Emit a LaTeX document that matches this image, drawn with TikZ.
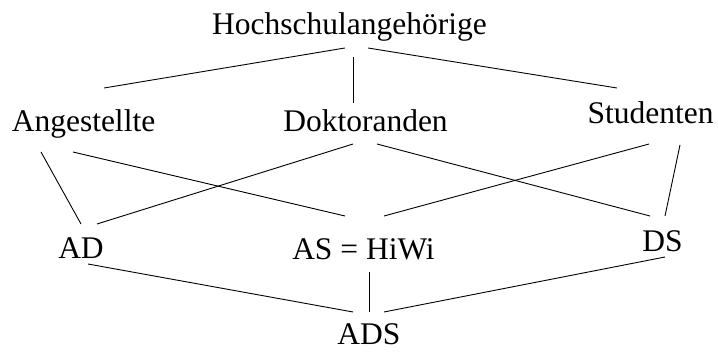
\documentclass[tikz,border=0pt]{standalone}
\usepackage{fontspec}
\setmainfont{Liberation Serif}
\begin{document}
\begin{tikzpicture}[x=1pt,y=1pt,
  lbl/.style={anchor=base,inner sep=0pt,font=\fontsize{31.5}{36}\selectfont},
  edge/.style={line width=0.9pt}]
\useasboundingbox[fill=white] (0,0) rectangle (718,351);

% lattice elements
\node[lbl] (hoch) at (349.5,316) {Hochschulangehörige};
\node[lbl] (ang)  at (83.5,219)  {Angestellte};
\node[lbl] (dok)  at (365.5,219) {Doktoranden};
\node[lbl] (stud) at (650.5,227) {Studenten};
\node[lbl] (ad)   at (81,92)     {AD};
\node[lbl] (as)   at (363.5,91)  {AS = HiWi};
\node[lbl] (ds)   at (662.5,99)  {DS};
\node[lbl,text depth=0pt] (ads) at (369,6) {ADS};

% order relations
\draw[edge] ([shift={(-4.5,-13)}]hoch.base) -- ([shift={(20.5,44)}]ang.base);
\draw[edge] ([shift={(3.5,-22)}]hoch.base)  -- ([shift={(-12.5,29)}]dok.base);
\draw[edge] ([shift={(18.5,-13)}]hoch.base) -- ([shift={(-33.5,36)}]stud.base);

\draw[edge] ([shift={(-42.5,-20)}]ang.base) -- ([shift={(0,35)}]ad.base);
\draw[edge] ([shift={(-10.5,-20)}]ang.base) -- ([shift={(-18.5,44)}]as.base);
\draw[edge] ([shift={(-12.5,-12)}]dok.base) -- ([shift={(16,35)}]ad.base);
\draw[edge] ([shift={(11.5,-12)}]dok.base)  -- ([shift={(-12.5,36)}]ds.base);
\draw[edge] ([shift={(-1.5,-20)}]stud.base) -- ([shift={(20.5,44)}]as.base);
\draw[edge] ([shift={(29.5,-21)}]stud.base) -- ([shift={(2.5,36)}]ds.base);

\draw[edge] ([shift={(7,-5)}]ad.base)   -- ([shift={(-16,33)}]ads.base);
\draw[edge] ([shift={(5.5,-12)}]as.base) -- ([shift={(0,33)}]ads.base);
\draw[edge] ([shift={(2.5,-5)}]ds.base)  -- ([shift={(15,33)}]ads.base);
\end{tikzpicture}
\end{document}
